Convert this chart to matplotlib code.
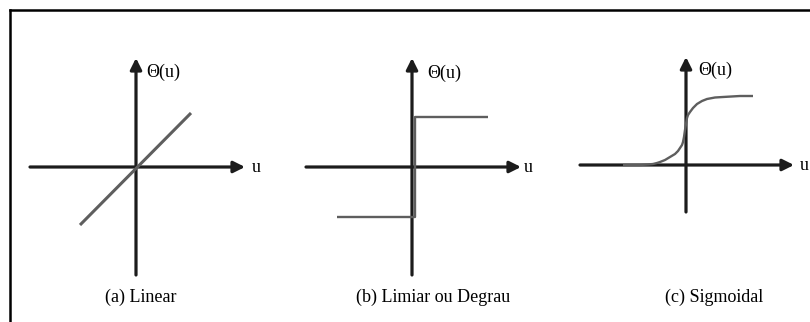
import matplotlib
matplotlib.use("Agg")
import matplotlib.pyplot as plt
from matplotlib.lines import Line2D

# ---- data (units of the Θ(u) / u axes) ----
panel_titles = ["(a) Linear", "(b) Limiar ou Degrau", "(c) Sigmoidal"]
axis_label_x = "u"
axis_label_y = "Θ(u)"

# extent of each panel's arrowed axes: (u_min, u_max, theta_min, theta_max)
axis_extents = [
    (-2.12, 2.18, -2.16, 2.18),
    (-2.12, 2.18, -2.16, 2.18),
    (-2.12, 2.16, -0.94, 2.16),
]

# (a) linear activation
linear_u = [-1.12, 1.10]
linear_theta = [-1.16, 1.08]

# (b) threshold / step activation
step_u = [-1.50, 0.06, 0.06, 1.52]
step_theta = [-1.00, -1.00, 1.00, 1.00]

# (c) sigmoid activation
sigmoid_u = [-1.26, -0.92, -0.76, -0.66, -0.58, -0.52, -0.42, -0.32, -0.22,
             -0.16, -0.12, -0.08, -0.06, -0.04, -0.02, 0.00, 0.02, 0.04,
             0.08, 0.14, 0.22, 0.32, 0.42, 0.58, 0.74, 1.08, 1.34]
sigmoid_theta = [0.00, 0.00, 0.01, 0.02, 0.04, 0.06, 0.10, 0.16, 0.22,
                 0.28, 0.34, 0.40, 0.46, 0.56, 0.70, 0.82, 0.94, 1.00,
                 1.06, 1.14, 1.22, 1.28, 1.32, 1.35, 1.36, 1.38, 1.38]

# ---- layout ----
W, H, DPI = 810, 322, 100
UNIT = 50.0          # pixels per data unit
HALF = 2.6           # half-width of each panel's axes, in data units
origins = [(136, 167), (412, 167), (686, 165)]   # panel origins in pixels
title_pos = [(0.10, -2.60), (0.42, -2.60), (0.56, -2.64)]
ylabel_pos = [(0.20, 1.90), (0.30, 1.88), (0.24, 1.90)]
xlabel_pos = [(2.32, 0.0), (2.24, 0.0), (2.28, 0.0)]

AXIS_COLOR = "#1c1c1c"
CURVE_COLOR = "#5e5e5e"
TEXT_COLOR = "#000000"
FONT = "Liberation Serif"

fig = plt.figure(figsize=(W / DPI, H / DPI), dpi=DPI)
fig.patch.set_facecolor("white")

curves = [
    (linear_u, linear_theta, 2.2),
    (step_u, step_theta, 1.7),
    (sigmoid_u, sigmoid_theta, 1.7),
]

for i, (ox, oy) in enumerate(origins):
    left = (ox - HALF * UNIT) / W
    bottom = (H - oy - HALF * UNIT) / H
    ax = fig.add_axes([left, bottom, 2 * HALF * UNIT / W, 2 * HALF * UNIT / H])
    ax.set_xlim(-HALF, HALF)
    ax.set_ylim(-HALF, HALF)
    ax.set_axis_off()
    ax.patch.set_alpha(0)

    u0, u1, t0, t1 = axis_extents[i]
    arrow = dict(arrowstyle="-|>", lw=2.3, color=AXIS_COLOR,
                 mutation_scale=17, shrinkA=0, shrinkB=0)
    ax.annotate("", xy=(u1, 0), xytext=(u0, 0), arrowprops=arrow,
                annotation_clip=False, zorder=2)
    ax.annotate("", xy=(0, t1), xytext=(0, t0), arrowprops=arrow,
                annotation_clip=False, zorder=2)

    cu, ct, lw = curves[i]
    ax.plot(cu, ct, color=CURVE_COLOR, lw=lw, solid_capstyle="butt",
            solid_joinstyle="round", zorder=3, clip_on=False)

    ax.text(*ylabel_pos[i], axis_label_y, fontsize=13, family=FONT,
            ha="left", va="center", color=TEXT_COLOR)
    ax.text(*xlabel_pos[i], axis_label_x, fontsize=13, family=FONT,
            ha="left", va="center", color=TEXT_COLOR)
    ax.text(*title_pos[i], panel_titles[i], fontsize=13, family=FONT,
            ha="center", va="center", color=TEXT_COLOR)

# frame lines along the top and left edges
fig.add_artist(Line2D([9.5 / W, 1.0], [1 - 10 / H, 1 - 10 / H],
                      transform=fig.transFigure, color="black", lw=1.8))
fig.add_artist(Line2D([10 / W, 10 / W], [0.0, 1 - 10 / H],
                      transform=fig.transFigure, color="black", lw=1.8))

fig.savefig("out.png", dpi=DPI, facecolor="white")
